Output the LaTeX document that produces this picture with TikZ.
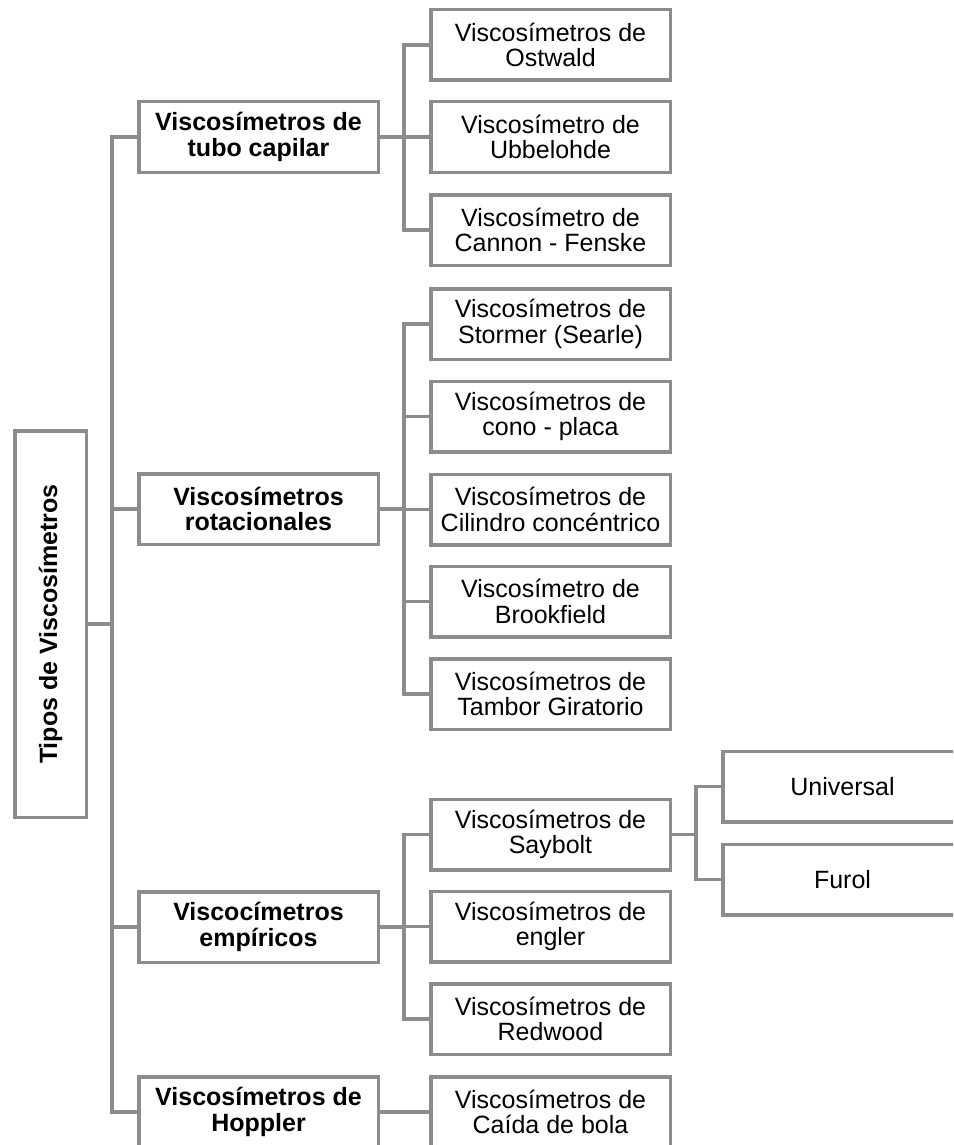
\documentclass[tikz,border=0pt]{standalone}
\usepackage{fontspec}
\setmainfont{Liberation Sans}
\definecolor{linegray}{RGB}{140,140,140}
\begin{document}
\begin{tikzpicture}[x=1pt,y=-1pt,
  box/.style={draw=linegray, line width=3.5pt, minimum width=239.5pt, minimum height=70.5pt,
    inner sep=0pt, align=center, text=black, font=\fontsize{25}{25.5}\selectfont},
  head/.style={box, font=\fontsize{25}{25.5}\selectfont\bfseries},
  link/.style={draw=linegray, line width=3.5pt, line join=miter}]
\clip (0,0) rectangle (953,1145);

% root
\node[box, minimum width=71.5pt, minimum height=386.5pt] (root) at (50.5,624)
  {\rotatebox{90}{\bfseries Tipos de Viscosímetros}};

% first level
\node[head] (cap) at (258.5,137)  {Viscosímetros de\\tubo capilar};
\node[head] (rot) at (258.5,509)  {Viscosímetros\\rotacionales};
\node[head] (emp) at (258.5,927)  {Viscocímetros\\empíricos};
\node[head] (hop) at (258.5,1112) {Viscosímetros de\\Hoppler};

% second level
\node[box] (ost) at (550.5,45)    {Viscosímetros de\\Ostwald};
\node[box] (ubb) at (550.5,137)   {Viscosímetro de\\Ubbelohde};
\node[box] (can) at (550.5,230)   {Viscosímetro de\\Cannon - Fenske};
\node[box] (sto) at (550.5,324)   {Viscosímetros de\\Stormer (Searle)};
\node[box] (con) at (550.5,416.5) {Viscosímetros de\\cono - placa};
\node[box] (cil) at (550.5,509.5) {Viscosímetros de\\Cilindro concéntrico};
\node[box] (bro) at (550.5,601.5) {Viscosímetro de\\Brookfield};
\node[box] (tam) at (550.5,694)   {Viscosímetros de\\Tambor Giratorio};
\node[box] (say) at (550.5,834.5) {Viscosímetros de\\Saybolt};
\node[box] (eng) at (550.5,926.5) {Viscosímetros de\\engler};
\node[box] (red) at (550.5,1019)  {Viscosímetros de\\Redwood};
\node[box] (cai) at (550.5,1112)  {Viscosímetros de\\Caída de bola};

% third level
\node[box] (uni) at (842.5,786.5) {Universal};
\node[box] (fur) at (842.5,879.5) {Furol};

% junction points on the vertical bus lines
\coordinate (j0) at ([xshift=24pt]root.east);
\coordinate (j1) at ([xshift=24pt]cap.east);
\coordinate (j2) at ([xshift=24pt]rot.east);
\coordinate (j3) at ([xshift=24pt]emp.east);
\coordinate (j4) at ([xshift=24pt]say.east);

% connectors
\draw[link] (root.east) -- (j0);
\foreach \c in {cap,rot,emp,hop} \draw[link] (j0) |- (\c.west);

\draw[link] (cap.east) -- (j1);
\foreach \c in {ost,ubb,can} \draw[link] (j1) |- (\c.west);

\draw[link] (rot.east) -- (j2);
\foreach \c in {sto,con,cil,bro,tam} \draw[link] (j2) |- (\c.west);

\draw[link] (emp.east) -- (j3);
\foreach \c in {say,eng,red} \draw[link] (j3) |- (\c.west);

\draw[link] (hop.east) -- (cai.west);

\draw[link] (say.east) -- (j4);
\foreach \c in {uni,fur} \draw[link] (j4) |- (\c.west);
\end{tikzpicture}
\end{document}
